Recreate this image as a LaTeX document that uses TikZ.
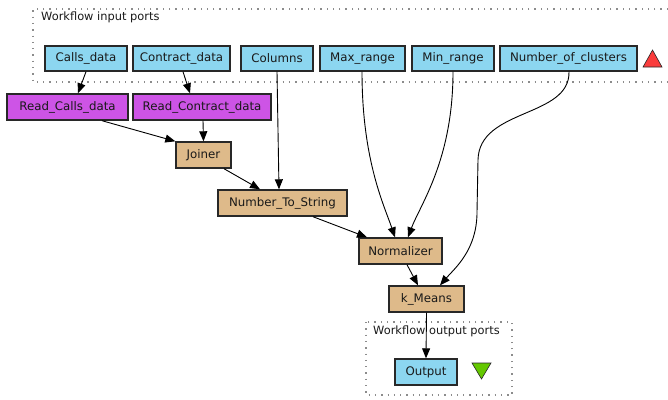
\documentclass[tikz,border=0pt]{standalone}
\usepackage{fontspec}
\setmainfont{DejaVu Sans}
\usetikzlibrary{arrows.meta,calc}
\definecolor{portblue}{RGB}{140,214,240}
\definecolor{procpurple}{RGB}{205,84,230}
\definecolor{proctan}{RGB}{222,186,138}
\definecolor{boxline}{RGB}{40,40,40}
\definecolor{frame}{RGB}{140,140,140}
\definecolor{upred}{RGB}{250,60,60}
\definecolor{downgreen}{RGB}{100,200,0}
\tikzset{
  x=1pt, y=-1pt,
  every node/.style={font=\fontsize{11.8}{13}\selectfont, inner sep=0pt, text=black!90},
  box/.style={draw=boxline, line width=1.4pt, minimum height=25pt},
  port/.style={box, fill=portblue},
  reader/.style={box, fill=procpurple, minimum height=26pt},
  proc/.style={box, fill=proctan, minimum height=26pt},
  link/.style={draw=black, line width=0.9pt, -{Triangle[length=10pt,width=8pt]}},
  portframe/.style={draw=frame, line width=1.1pt, dash pattern=on 1.3pt off 5pt},
}
\begin{document}
\begin{tikzpicture}
\useasboundingbox (0,0) rectangle (668,399);

% dotted frames for the workflow ports
\draw[portframe] (668,9) -- (33,9) -- (33,82) -- (668,82);
\node[anchor=west, font=\fontsize{11.4}{13}\selectfont] (intitle) at (41,17) {Workflow input ports};
\draw[portframe] (366,322) rectangle (512,395);
\node[anchor=west, font=\fontsize{11.4}{13}\selectfont] (outtitle) at (373,331) {Workflow output ports};

% input ports
\node[port, minimum width=82pt]  (calls)    at (86,58.5)    {Calls\_data};
\node[port, minimum width=97pt]  (contract) at (181.5,58.5) {Contract\_data};
\node[port, minimum width=72pt]  (columns)  at (277,58.5)   {Columns};
\node[port, minimum width=85pt]  (maxr)     at (362.5,58.5) {Max\_range};
\node[port, minimum width=82pt]  (minr)     at (453,58.5)   {Min\_range};
\node[port, minimum width=137pt] (nclus)    at (568.5,58.5) {Number\_of\_clusters};
\fill[upred, draw=boxline, line width=0.6pt] (643,67) -- (652.5,50) -- (662,67) -- cycle;

% processors
\node[reader, minimum width=121pt] (rcalls)    at (67.5,107) {Read\_Calls\_data};
\node[reader, minimum width=138pt] (rcontract) at (202,107)  {Read\_Contract\_data};
\node[proc, minimum width=55pt]  (joiner) at (203.5,155) {Joiner};
\node[proc, minimum width=129pt] (nts)    at (282.5,203) {Number\_To\_String};
\node[proc, minimum width=83pt]  (norm)   at (400.5,251) {Normalizer};
\node[proc, minimum width=75pt]  (kmeans) at (426.5,299) {k\_Means};

% output port
\node[port, minimum width=62pt, minimum height=26pt] (output) at (426,372) {Output};
\fill[downgreen, draw=boxline, line width=0.6pt] (472,363) -- (491,363) -- (481.5,379) -- cycle;

% data links
\draw[link] (calls.south) -- ([xshift=10.5pt]rcalls.north);
\draw[link] ([xshift=1.5pt]contract.south) -- ([xshift=-12pt]rcontract.north);
\draw[link] ([xshift=34.5pt]rcalls.south) -- (joiner.north west);
\draw[link] ([xshift=1pt]rcontract.south) -- (joiner.north);
\draw[link] ([xshift=20.5pt]joiner.south) -- ([xshift=-22.5pt]nts.north);
\draw[link] (columns.south) -- ([xshift=-3.5pt]nts.north);
\draw[link] ([xshift=30.5pt]nts.south) -- ([xshift=-33.5pt]norm.north);
\draw[link] ([xshift=-0.5pt]maxr.south) .. controls (362,160) and (384,205) .. ([xshift=-5.5pt]norm.north);
\draw[link] (minr.south) .. controls (453,160) and (420,205) .. ([xshift=7.5pt]norm.north);
\draw[link] ([xshift=0.5pt]nclus.south) .. controls (570,118) and (479,108) .. (478,160)
  -- (477,212) .. controls (477,250) and (455,268) .. ([xshift=13.5pt]kmeans.north);
\draw[link] ([xshift=6.5pt]norm.south) -- ([xshift=-8.5pt]kmeans.north);
\draw[link] (kmeans.south) -- (output.north);
\end{tikzpicture}
\end{document}
